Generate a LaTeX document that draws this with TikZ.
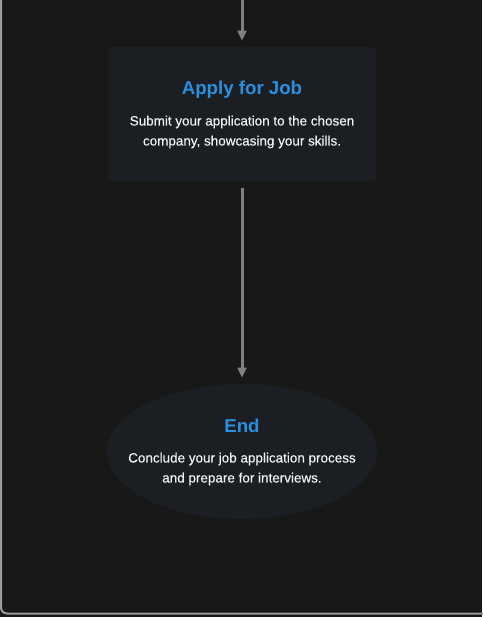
\documentclass[tikz,border=0pt]{standalone}
\usepackage{fontspec}
\setmainfont{Liberation Sans}
\newfontfamily\medfont{Liberation Sans}[FakeBold=0.4]
\usetikzlibrary{shapes.geometric,arrows.meta}

\definecolor{pagebg}{HTML}{181818}
\definecolor{cardbg}{HTML}{1B1F23}
\definecolor{titleblue}{HTML}{2B8FE0}
\definecolor{linkgray}{HTML}{808080}
\definecolor{framegray}{HTML}{9C9C9C}

\tikzset{
	card/.style={fill=cardbg, minimum width=201pt, minimum height=100.5pt, rounded corners=3pt, inner sep=0pt},
	endcard/.style={ellipse, fill=cardbg, minimum width=202.5pt, minimum height=101.25pt, inner sep=0pt},
	cardtitle/.style={text=titleblue, font=\bfseries\fontsize{14}{16}\selectfont},
	cardtext/.style={text=white!94!black, align=center, font=\medfont\fontsize{10.1}{15}\selectfont},
	link/.style={draw=linkgray, line width=2.25pt, -{Triangle[length=7.5pt,width=6.5pt]}}
}

\begin{document}
\begin{tikzpicture}[x=0.75pt,y=-0.75pt]
		% page and frame
		\fill[pagebg] (0,0) rectangle (482,617);
		\useasboundingbox (0,0) rectangle (482,617);
		\draw[framegray, line width=1.5pt, rounded corners=4.5pt] (1,-20) rectangle (520,613.5);

		% apply card
		\node[card] (apply) at (242,114) {};
		\node[cardtitle] (applytitle) at (242,89.5) {Apply for Job};
		\node[cardtext] (applytext) at (242,132) {Submit your application to the chosen\\company, showcasing your skills.};

		% end card
		\node[endcard] (end) at (242,451.5) {};
		\node[cardtitle] (endtitle) at (242,426) {End};
		\node[cardtext] (endtext) at (242,469) {Conclude your job application process\\and prepare for interviews.};

		% connectors
		\coordinate (intop) at (242,0);
		\draw[link, shorten >=4.5pt] (intop) -- (apply.north);
		\draw[link, shorten <=5pt, shorten >=4.5pt] (apply.south) -- (end.north);
	\end{tikzpicture}
\end{document}
